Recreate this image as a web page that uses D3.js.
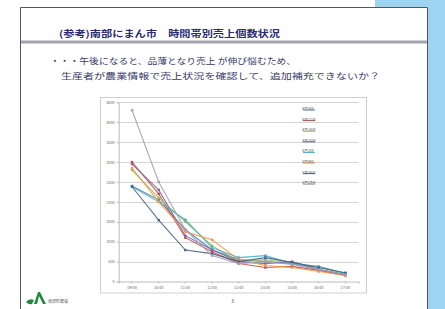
<!DOCTYPE html>
<head>
<meta charset="utf-8">
<script src="https://d3js.org/d3.v7.min.js"></script>
<style>
  body { margin: 0; background: #fff; }
  text { font-family: "Noto Sans CJK JP", sans-serif; }
</style>
</head>
<body>
<script>
  const width = 445, height = 309;

  // chart data
  const hours = ["09:00", "10:00", "11:00", "12:00", "13:00", "14:00", "15:00", "16:00", "17:00"];
  const yTicks = [0, 500, 1000, 1500, 2000, 2500, 3000, 3500, 4000, 4500];
  const seriesNames = ["4月4日", "4月11日", "4月18日", "4月25日", "5月2日", "5月9日", "5月16日", "5月23日"];
  const seriesColors = ["#4f81bd", "#c0504d", "#9bbb59", "#8064a2", "#4bacc6", "#f79646", "#4a6080", "#a0a0b8"];
  const s1 = [2400, 2050, 1300, 800, 550, 500, 450, 300, 180];
  const s2 = [3000, 2200, 1100, 750, 450, 350, 380, 280, 150];
  const s3 = [2800, 2100, 1500, 900, 500, 550, 450, 350, 200];
  const s4 = [2950, 2300, 1150, 800, 500, 450, 500, 300, 170];
  const s5 = [2380, 2000, 1550, 850, 600, 650, 450, 380, 200];
  const s6 = [2850, 2000, 1250, 1050, 550, 400, 350, 250, 150];
  const s7 = [2380, 1540, 790, 700, 500, 600, 480, 350, 220];
  const s8 = [4300, 2500, 1300, 650, 450, 500, 430, 300, 170];
  const series = [s1, s2, s3, s4, s5, s6, s7, s8];

  const svg = d3.select("body").append("svg")
      .attr("width", width).attr("height", height);

  // page background + slide
  svg.append("rect").attr("width", width).attr("height", height).attr("fill", "#9ed4f2");
  svg.append("rect").attr("x", 0).attr("y", 0).attr("width", 375).attr("height", 7).attr("fill", "#fff");
  svg.append("rect").attr("x", 0).attr("y", 7).attr("width", 428).attr("height", 302).attr("fill", "#fff");
  svg.append("path").attr("d", "M20.5,309V7.5H427.5V309")
      .attr("fill", "none").attr("stroke", "#555").attr("stroke-width", 1);

  // title
  svg.append("text").attr("x", 59).attr("y", 36.5)
      .attr("font-size", 9).attr("font-weight", "bold").attr("fill", "#2a2a72")
      .attr("textLength", 221).attr("lengthAdjust", "spacingAndGlyphs")
      .text("(参考)南部にまん市　時間帯別売上個数状況");
  svg.append("rect").attr("x", 21).attr("y", 40.5).attr("width", 406).attr("height", 3).attr("fill", "#a3a3b0");

  svg.append("text").attr("x", 50).attr("y", 63.5)
      .attr("font-size", 8.5).attr("fill", "#3a3a6a")
      .attr("textLength", 246).attr("lengthAdjust", "spacingAndGlyphs")
      .text("・・・午後になると、品薄となり売上 が伸び悩むため、");
  svg.append("text").attr("x", 61).attr("y", 79)
      .attr("font-size", 8.5).attr("fill", "#3a3a6a")
      .attr("textLength", 319).attr("lengthAdjust", "spacingAndGlyphs")
      .text("生産者が農業情報で売上状況を確認して、追加補充できないか？");

  // chart frame
  svg.append("rect").attr("x", 100.5).attr("y", 97.5).attr("width", 266).attr("height", 195.5)
      .attr("fill", "#fff").attr("stroke", "#cfcfcf");

  const x = d3.scaleBand().domain(hours).range([118.7, 358.7]);
  const y = d3.scaleLinear().domain([0, 4500]).range([281.5, 102.3]);

  const g = svg.append("g");
  g.selectAll(".grid").data(yTicks.slice(1)).join("line")
      .attr("x1", 118.7).attr("x2", 358.7)
      .attr("y1", d => Math.round(y(d)) + 0.5).attr("y2", d => Math.round(y(d)) + 0.5)
      .attr("stroke", "#d4d4d4").attr("stroke-width", 1);

  const yAxis = g.append("g").attr("transform", "translate(118.7,0)")
      .call(d3.axisLeft(y).tickValues(yTicks).tickFormat(d3.format("d")).tickSize(2).tickPadding(2));
  const xAxis = g.append("g").attr("transform", "translate(0,281.5)")
      .call(d3.axisBottom(x).tickSize(2).tickPadding(3));
  [yAxis, xAxis].forEach(a => {
    a.selectAll("path, line").attr("stroke", "#bbb");
    a.selectAll("text").attr("font-size", 3.8).attr("fill", "#666").attr("font-family", "Arial, sans-serif");
  });

  const line = d3.line().x((d, i) => x(hours[i]) + x.bandwidth() / 2).y(d => y(d));
  series.forEach((s, k) => {
    g.append("path").datum(s).attr("d", line)
        .attr("fill", "none").attr("stroke", seriesColors[k]).attr("stroke-width", 1.1)
        .attr("opacity", 0.9);
    g.selectAll(".m" + k).data(s).join("rect")
        .attr("x", (d, i) => x(hours[i]) + x.bandwidth() / 2 - 1.2)
        .attr("y", d => y(d) - 1.2)
        .attr("width", 2.4).attr("height", 2.4)
        .attr("fill", seriesColors[k]);
  });

  // legend
  const leg = svg.append("g");
  seriesNames.forEach((n, i) => {
    const ly = 109 + i * 10.6;
    leg.append("line").attr("x1", 303).attr("x2", 315).attr("y1", ly + 1).attr("y2", ly + 1)
        .attr("stroke", seriesColors[i]).attr("stroke-width", 1);
    leg.append("text").attr("x", 302).attr("y", ly + 1).attr("font-size", 3.8)
        .attr("fill", "#555").text(n);
  });

  // footer
  const logo = svg.append("g").attr("transform", "translate(26,292)");
  logo.append("path").attr("d", "M0,10 Q3,6 8,8 L6,12 Q3,13 0,10Z").attr("fill", "#1f8a3a");
  logo.append("path").attr("d", "M8,12 L12,0 L14,0 L20,12 L17,12 L13,4 L11,12Z").attr("fill", "#1f8a3a");
  logo.append("text").attr("x", 22).attr("y", 11).attr("font-size", 4).attr("fill", "#555")
      .text("南部町農協");
  svg.append("text").attr("x", 233).attr("y", 303).attr("font-size", 5).attr("fill", "#555")
      .attr("text-anchor", "middle").text("8");
</script>
</body>
